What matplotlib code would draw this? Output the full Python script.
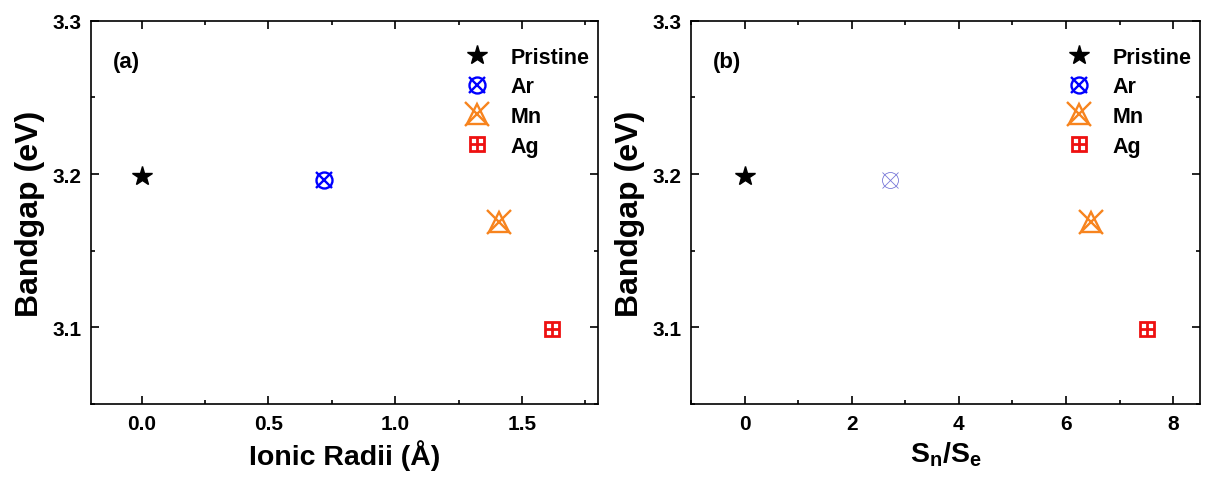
import matplotlib
matplotlib.use("Agg")
import matplotlib.pyplot as plt
from matplotlib.lines import Line2D
from matplotlib.ticker import MultipleLocator, FormatStrFormatter
from matplotlib.legend_handler import HandlerTuple

plt.rcParams['font.family'] = ['Liberation Sans', 'DejaVu Sans']
plt.rcParams['font.weight'] = 'bold'
plt.rcParams['mathtext.default'] = 'bf'

# Samples
samples = ["Pristine", "Ar", "Mn", "Ag"]
ionic_radii = [0.0, 0.72, 1.41, 1.62]      # Å
sn_se = [0.0, 2.72, 6.47, 7.52]             # nuclear / electronic stopping
bandgap = [3.199, 3.196, 3.169, 3.099]      # eV

colors = {"Pristine": "black", "Ar": "#0000ff", "Mn": "#f7841e", "Ag": "#ee1111"}


def symbol_styles(name, thin=False):
    """Layered marker styles making up the symbol of one sample."""
    c = colors[name]
    lw = 0.6 if thin else 1.7
    if name == "Pristine":
        return [dict(marker="*", ms=15, color=c, mec=c)]
    if name == "Ar":
        cc = "#7878d8" if thin else c
        return [dict(marker="o", ms=11.5, mfc="none", mec=cc, mew=lw),
                dict(marker="x", ms=11.5, mec=cc, mew=lw)]
    if name == "Mn":
        return [dict(marker="^", ms=15, mfc="none", mec=c, mew=lw),
                dict(marker="x", ms=17, mec=c, mew=lw)]
    if name == "Ag":
        return [dict(marker="s", ms=10.5, mfc="none", mec=c, mew=2.0),
                dict(marker="+", ms=10.5, mec=c, mew=2.0)]


def draw_point(ax, x, y, name, thin=False):
    for st in symbol_styles(name, thin):
        ax.plot([x], [y], ls="none", **st)


def legend_handle(name):
    return tuple(Line2D([], [], ls="none", **st) for st in symbol_styles(name))


fig = plt.figure(figsize=(12.07, 4.85), dpi=100)
ax_a = fig.add_axes([0.0754, 0.165, 0.420, 0.790])
ax_b = fig.add_axes([0.5725, 0.165, 0.4217, 0.790])

panels = [
    (ax_a, ionic_radii, "(a)", "Ionic Radii (Å)", (-0.2, 1.8), 0.5, 0.25, "%.1f", False),
    (ax_b, sn_se, "(b)", r"S$_\mathregular{n}$/S$_\mathregular{e}$", (-1, 8.5), 2, 1, "%d", True),
]

for ax, xs, tag, xlabel, xlim, major, minor, fmt, thin_ar in panels:
    for name, x, y in zip(samples, xs, bandgap):
        draw_point(ax, x, y, name, thin=(thin_ar and name == "Ar"))
    ax.set_xlim(*xlim)
    ax.set_ylim(3.05, 3.3)
    ax.xaxis.set_major_locator(MultipleLocator(major))
    ax.xaxis.set_minor_locator(MultipleLocator(minor))
    ax.xaxis.set_major_formatter(FormatStrFormatter(fmt))
    ax.yaxis.set_major_locator(MultipleLocator(0.1))
    ax.yaxis.set_minor_locator(MultipleLocator(0.05))
    ax.yaxis.set_major_formatter(FormatStrFormatter("%.1f"))
    ax.tick_params(which="both", direction="in", top=True, right=True, width=1.2,
                   labelsize=15, pad=7)
    ax.tick_params(which="major", length=6)
    ax.tick_params(which="minor", length=3)
    for lab in ax.get_xticklabels() + ax.get_yticklabels():
        lab.set_fontweight("bold")
    for s in ax.spines.values():
        s.set_linewidth(1.2)
    ax.set_xlabel(xlabel, fontsize=20.5, fontweight="bold", labelpad=5)
    ax.set_ylabel("Bandgap (eV)", fontsize=23, fontweight="bold", labelpad=5)
    ax.text(0.043, 0.893, tag, transform=ax.transAxes, fontsize=16, fontweight="bold",
            ha="left", va="center")
    ax.legend([legend_handle(n) for n in samples], samples,
              handler_map={tuple: HandlerTuple(ndivide=1)},
              loc="upper right", bbox_to_anchor=(1.0, 0.955), frameon=False,
              prop={"weight": "bold", "size": 15.5},
              handlelength=1.2, handletextpad=0.95, labelspacing=0.4,
              borderaxespad=0.0, borderpad=0.4)

fig.savefig("out.png", dpi=100)
